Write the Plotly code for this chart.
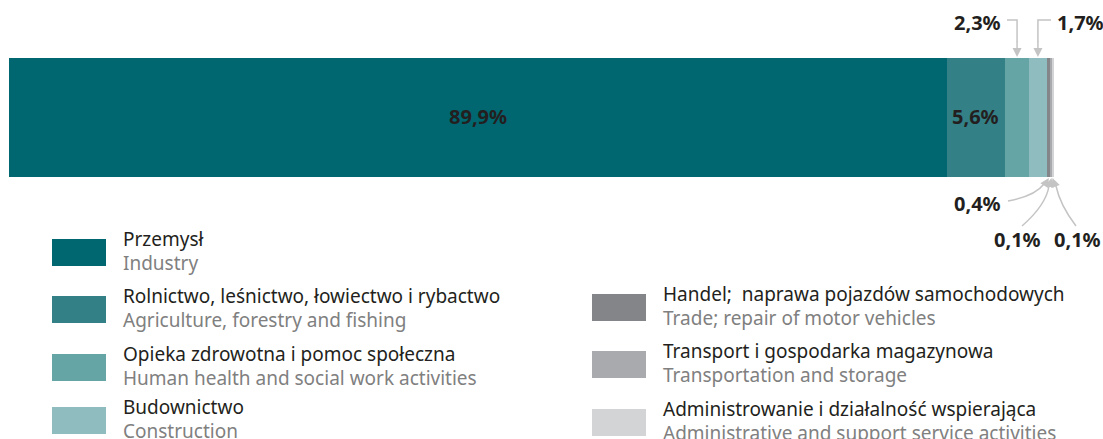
import plotly.graph_objects as go

W, H = 1103, 439

# Sector shares of the total (%)
sectors_pl = [
    "Przemysł",
    "Rolnictwo, leśnictwo, łowiectwo i rybactwo",
    "Opieka zdrowotna i pomoc społeczna",
    "Budownictwo",
    "Handel;  naprawa pojazdów samochodowych",
    "Transport i gospodarka magazynowa",
    "Administrowanie i działalność wspierająca",
]
sectors_en = [
    "Industry",
    "Agriculture, forestry and fishing",
    "Human health and social work activities",
    "Construction",
    "Trade; repair of motor vehicles",
    "Transportation and storage",
    "Administrative and support service activities",
]
shares = [89.9, 5.6, 2.3, 1.7, 0.4, 0.1, 0.1]
colors = ["#006670", "#348087", "#66a5a6", "#8fbcbe", "#838589", "#a9aaad", "#d3d4d5"]

DARK = "#231f20"
GREY_TXT = "#808080"
ARROW = "#c4c4c4"
FONT = "Noto Sans"

# horizontal scale: pixels per percentage point, bar starts at x=9 px
PX_PER = 10.43
X0 = 9.0


def px_to_x(px):
    return (px - X0) / PX_PER


def fmt(v):
    return f"{v:.1f}".replace(".", ",") + "%"


BAR_Y, BAR_H = 117.5, 119
BAR_TOP, BAR_BOT = BAR_Y - BAR_H / 2, BAR_Y + BAR_H / 2

fig = go.Figure()
for name, v, c in zip(sectors_pl, shares, colors):
    fig.add_trace(go.Bar(
        x=[v], y=[BAR_Y], orientation="h", width=BAR_H, name=name,
        marker=dict(color=c, line=dict(width=0)), hoverinfo="skip",
    ))

cum = []
acc = 0.0
for v in shares:
    cum.append(acc + v / 2)
    acc += v

annotations = []
shapes = []

lbl_font = dict(family=FONT, size=20, color=DARK)

# inside labels for the two largest segments
for i in (0, 1):
    annotations.append(dict(
        x=cum[i], y=BAR_Y - 1, xref="x", yref="y", text=f"<b>{fmt(shares[i])}</b>",
        showarrow=False, font=lbl_font,
    ))

# top callouts with elbow leader lines
top = [(2, 1003, "right", 1007), (3, 1055, "left", 1051)]
for i, tx, anchor, lx in top:
    annotations.append(dict(
        x=px_to_x(tx), y=22, xref="x", yref="y", text=f"<b>{fmt(shares[i])}</b>",
        xanchor=anchor, yanchor="middle", showarrow=False, font=lbl_font,
    ))
    shapes.append(dict(
        type="path", xref="x", yref="y",
        path=f"M {px_to_x(lx)},20 L {cum[i]},20 L {cum[i]},42",
        line=dict(color=ARROW, width=1.5),
    ))
    annotations.append(dict(
        x=cum[i], y=BAR_TOP - 1, ax=cum[i], ay=40, xref="x", yref="y",
        axref="x", ayref="y", text="", showarrow=True, arrowhead=2,
        arrowsize=1.2, arrowwidth=1.5, arrowcolor=ARROW,
    ))

# bottom callouts with curved leader lines
bottom = [
    (4, 1003, 203, "right", (1008, 201), (1035, 196), (1044, 184)),
    (5, 1017, 239, "center", (1022, 226), (1046, 205), (1049, 186)),
    (6, 1077, 239, "center", (1076, 226), (1060, 205), (1056, 186)),
]
for i, tx, ty, anchor, p0, pc, p1 in bottom:
    annotations.append(dict(
        x=px_to_x(tx), y=ty, xref="x", yref="y", text=f"<b>{fmt(shares[i])}</b>",
        xanchor=anchor, yanchor="middle", showarrow=False, font=lbl_font,
    ))
    shapes.append(dict(
        type="path", xref="x", yref="y",
        path=(f"M {px_to_x(p0[0])},{p0[1]} Q {px_to_x(pc[0])},{pc[1]} "
              f"{px_to_x(p1[0])},{p1[1]}"),
        line=dict(color=ARROW, width=1.5),
    ))
    annotations.append(dict(
        x=cum[i], y=BAR_BOT + 1, ax=px_to_x(p1[0]), ay=p1[1] + 2, xref="x", yref="y",
        axref="x", ayref="y", text="", showarrow=True, arrowhead=2,
        arrowsize=1.2, arrowwidth=1.5, arrowcolor=ARROW,
    ))

# custom two-column legend
legend_pos = [
    (52, 239), (52, 296), (52, 354), (52, 407),
    (592, 294), (592, 351), (592, 409),
]
SW_W, SW_H = 54, 27
for (sx, sy), pl, en, c in zip(legend_pos, sectors_pl, sectors_en, colors):
    shapes.append(dict(
        type="rect", xref="paper", yref="y",
        x0=sx / W, x1=(sx + SW_W) / W, y0=sy, y1=sy + SW_H,
        fillcolor=c, line=dict(width=0),
    ))
    tx = (sx + 69) / W
    annotations.append(dict(
        x=tx, y=sy, xref="paper", yref="y", text=pl, xanchor="left",
        yanchor="middle", showarrow=False,
        font=dict(family=FONT, size=19, color=DARK),
    ))
    annotations.append(dict(
        x=tx, y=sy + 24, xref="paper", yref="y", text=en, xanchor="left",
        yanchor="middle", showarrow=False,
        font=dict(family=FONT, size=19, color=GREY_TXT),
    ))

fig.update_layout(
    width=W, height=H, barmode="stack", showlegend=False,
    margin=dict(l=0, r=0, t=0, b=0),
    paper_bgcolor="white", plot_bgcolor="white",
    xaxis=dict(range=[px_to_x(0), px_to_x(W)], visible=False, fixedrange=True),
    yaxis=dict(range=[H, 0], visible=False, fixedrange=True),
    annotations=annotations, shapes=shapes,
)

fig.write_html("out.html", config={"displayModeBar": False})
